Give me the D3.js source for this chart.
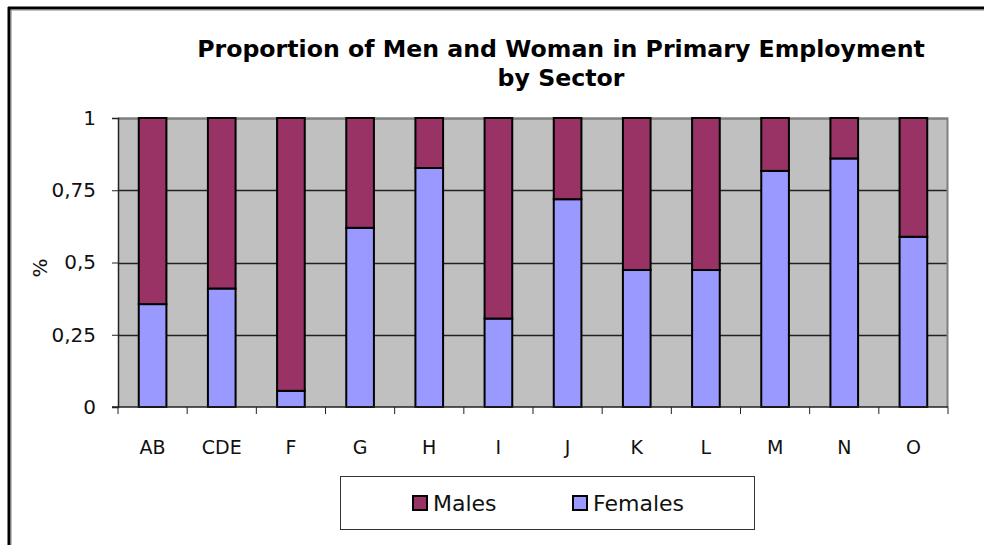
<!DOCTYPE html>
<html>
<head>
<meta charset="utf-8">
<script src="https://cdn.jsdelivr.net/npm/d3@7"></script>
<style>
  html, body { margin: 0; padding: 0; background: #fff; }
  svg { display: block; }
</style>
</head>
<body>
<div id="chart"></div>
<script>
// data
const sectors = ["AB", "CDE", "F", "G", "H", "I", "J", "K", "L", "M", "N", "O"];
const females = [0.356, 0.41, 0.056, 0.62, 0.827, 0.306, 0.719, 0.474, 0.474, 0.817, 0.86, 0.589];
const males = females.map(f => 1 - f);
const yTicks = [0, 0.25, 0.5, 0.75, 1];
const yTickLabels = ["0", "0,25", "0,5", "0,75", "1"];
const seriesNames = ["Males", "Females"];

const W = 984, H = 545;
const margin = {top: 118, right: 36, bottom: 138, left: 118};
const plotW = W - margin.left - margin.right;
const plotH = H - margin.top - margin.bottom;

const colors = {Males: "#993366", Females: "#9999ff"};
const font = "'DejaVu Sans', sans-serif";

const svg = d3.select("#chart").append("svg")
    .attr("width", W)
    .attr("height", H);

// chart frame (only left/top visible in reference)
svg.append("line").attr("x1", 9).attr("x2", 9).attr("y1", 7).attr("y2", H)
    .attr("stroke", "#000").attr("stroke-width", 3);
svg.append("line").attr("x1", 11).attr("x2", 11).attr("y1", 9).attr("y2", H)
    .attr("stroke", "#808080").attr("stroke-width", 1);
svg.append("line").attr("x1", 8).attr("x2", W).attr("y1", 8).attr("y2", 8)
    .attr("stroke", "#000").attr("stroke-width", 3);
svg.append("line").attr("x1", 11).attr("x2", W).attr("y1", 10).attr("y2", 10)
    .attr("stroke", "#808080").attr("stroke-width", 1);

// title
const title = svg.append("text")
    .attr("x", 561).attr("y", 57)
    .attr("text-anchor", "middle")
    .style("font-family", font)
    .style("font-weight", "bold")
    .style("font-size", "18px")
    .text("Proportion of Men and Woman in Primary Employment");
const tlen = title.node().getComputedTextLength();
const fs = 18 * 728 / tlen;
title.style("font-size", fs + "px");
svg.append("text")
    .attr("x", 561).attr("y", 86)
    .attr("text-anchor", "middle")
    .style("font-family", font)
    .style("font-weight", "bold")
    .style("font-size", fs + "px")
    .text("by Sector");

const g = svg.append("g")
    .attr("transform", `translate(${margin.left},${margin.top})`);

const x = d3.scaleBand().domain(sectors).range([0, plotW]).paddingInner(0.6).paddingOuter(0.3);
const xCat = d3.scaleBand().domain(sectors).range([0, plotW]);
const y = d3.scaleLinear().domain([0, 1]).range([plotH, 0]);

// plot background
g.append("rect")
    .attr("width", plotW).attr("height", plotH)
    .attr("fill", "#c0c0c0");

// gridlines
g.append("g").selectAll("line")
    .data(yTicks.filter(d => d > 0))
    .join("line")
    .attr("x1", 0).attr("x2", plotW)
    .attr("y1", d => Math.round(y(d)) + 0.5).attr("y2", d => Math.round(y(d)) + 0.5)
    .attr("stroke", "#222").attr("stroke-width", 1.3);

// plot border right/top
g.append("path")
    .attr("d", `M0,0.5H${plotW - 0.5}V${plotH}`)
    .attr("fill", "none").attr("stroke", "#808080").attr("stroke-width", 2);

// stacked bars
const stackData = sectors.map((s, i) => ({sector: s, Females: females[i], Males: males[i]}));
const stack = d3.stack().keys(["Females", "Males"])(stackData);

g.append("g").selectAll("g")
    .data(stack)
    .join("g")
    .attr("fill", d => colors[d.key])
    .selectAll("rect")
    .data(d => d)
    .join("rect")
    .attr("x", d => x(d.data.sector))
    .attr("y", d => y(d[1]))
    .attr("width", x.bandwidth())
    .attr("height", d => y(d[0]) - y(d[1]))
    .attr("stroke", "#000")
    .attr("stroke-width", 2);

// y axis
const yAxis = d3.axisLeft(y)
    .tickValues(yTicks)
    .tickFormat((d, i) => yTickLabels[i])
    .tickSize(6)
    .tickPadding(16);
const ya = g.append("g").call(yAxis);
ya.select(".domain").attr("stroke", "#222").attr("stroke-width", 1.5);
ya.selectAll(".tick line").attr("stroke", "#222");
ya.selectAll("text")
    .style("font-family", font)
    .style("font-size", "20px")
    .attr("fill", "#111");

// x axis: ticks at category boundaries, labels centred
const xa = g.append("g").attr("transform", `translate(0,${plotH})`);
xa.append("line").attr("x1", -6).attr("x2", plotW).attr("y1", 0).attr("y2", 0)
    .attr("stroke", "#222").attr("stroke-width", 1.5);
xa.selectAll(".xt")
    .data(sectors.concat(["end"]))
    .join("line")
    .attr("class", "xt")
    .attr("x1", (d, i) => i < sectors.length ? xCat(d) : plotW)
    .attr("x2", (d, i) => i < sectors.length ? xCat(d) : plotW)
    .attr("y1", 0).attr("y2", 7)
    .attr("stroke", "#222");
xa.selectAll(".xl")
    .data(sectors)
    .join("text")
    .attr("class", "xl")
    .attr("x", d => xCat(d) + xCat.bandwidth() / 2)
    .attr("y", 47)
    .attr("text-anchor", "middle")
    .style("font-family", font)
    .style("font-size", "19px")
    .attr("fill", "#111")
    .text(d => d);

// y axis title
svg.append("text")
    .attr("transform", "translate(47,268) rotate(-90)")
    .attr("text-anchor", "middle")
    .style("font-family", font)
    .style("font-size", "20px")
    .attr("fill", "#111")
    .text("%");

// legend
const lg = svg.append("g");
lg.append("rect")
    .attr("x", 340.5).attr("y", 476.5).attr("width", 414).attr("height", 53)
    .attr("fill", "#fff").attr("stroke", "#333").attr("stroke-width", 1);
const legX = [412, 572];
seriesNames.forEach((name, i) => {
  lg.append("rect")
      .attr("x", legX[i] + 1).attr("y", 496).attr("width", 14).attr("height", 14)
      .attr("fill", colors[name]).attr("stroke", "#000").attr("stroke-width", 2);
  lg.append("text")
      .attr("x", legX[i] + 21).attr("y", 511)
      .style("font-family", font)
      .style("font-size", "22px")
      .attr("fill", "#111")
      .text(name);
});
</script>
</body>
</html>
